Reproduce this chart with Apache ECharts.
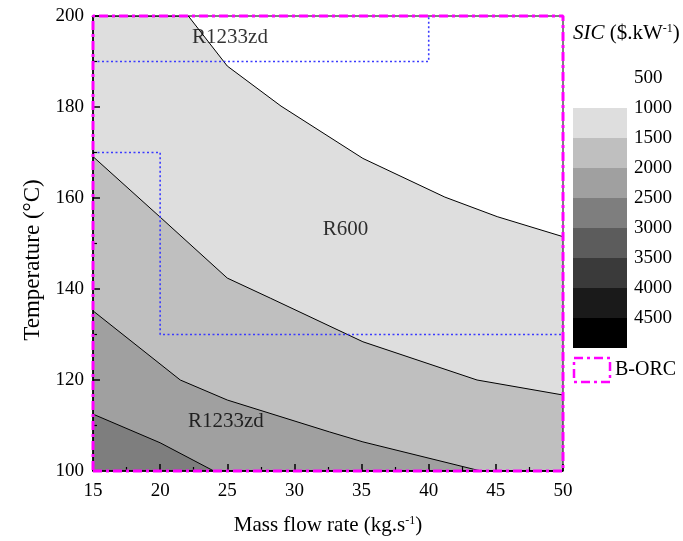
<!DOCTYPE html>
<html>
<head>
<meta charset="utf-8">
<script src="https://cdn.jsdelivr.net/npm/echarts@6/dist/echarts.min.js"></script>
<style>
  html, body { margin: 0; padding: 0; background: #fff; }
  #chart { width: 683px; height: 541px; }
</style>
</head>
<body>
<div id="chart"></div>
<script>
// Iso-cost contour lines of SIC ($/kW) over mass flow rate (kg/s) and temperature (°C)
const contour1000 = [[15, 200], [22.1, 200], [25, 189], [29, 180.2], [35.1, 168.7], [41.2, 160.2], [45.1, 155.9], [50, 151.5]];
const contour1500 = [[15, 169.1], [20, 155.8], [25, 142.4], [28.2, 138], [35.1, 128.4], [43.6, 120], [50, 116.7]];
const contour2000 = [[15, 135.2], [21.5, 120], [25, 115.6], [32.6, 108.6], [35.1, 106.4], [43.6, 100.2], [44, 100], [50, 100]];
const contour2500 = [[15, 112.5], [20, 106.2], [24, 100], [50, 100]];

// Working-fluid zones (dotted outlines)
const zoneR1233zdTop = [[15, 190], [40, 190], [40, 200]];
const zoneR600 = [[15, 170], [20, 170], [20, 130], [50, 130]];
const bOrcFrame = [[15, 100], [50, 100], [50, 200], [15, 200], [15, 100]];

const fluidLabels = [
  { name: 'R1233zd', value: [25.2, 195.2] },
  { name: 'R600', value: [33.8, 153] },
  { name: 'R1233zd', value: [24.9, 110.9] }
];

// Colour scale
const sicLevels = [500, 1000, 1500, 2000, 2500, 3000, 3500, 4000, 4500];
const sicColors = ['#ffffff', '#dedede', '#bfbfbf', '#a0a0a0', '#7e7e7e', '#5c5c5c', '#3a3a3a', '#1a1a1a', '#000000'];

const xTicks = { min: 15, max: 50, interval: 5 };
const yTicks = { min: 100, max: 200, interval: 20 };

const FONT = 'Liberation Serif';
const supStyle = { fontSize: 12, fontFamily: FONT, color: '#000', padding: [0, 0, 9, 0] };

function band(data, color) {
  return {
    type: 'line', data: data, symbol: 'none', silent: true,
    lineStyle: { color: '#000', width: 1 },
    areaStyle: { color: color, opacity: 1, origin: 'start' },
    z: 2
  };
}
function dotted(data) {
  return {
    type: 'line', data: data, symbol: 'none', silent: true,
    lineStyle: { color: '#3a3aff', width: 1.6, type: [2, 2.5] },
    z: 4
  };
}

// Legend built from the colour scale
const legendX = 573, legendTop = 78, boxW = 54, boxH = 30;
const legendGraphics = [];
sicLevels.forEach((lv, i) => {
  legendGraphics.push({
    type: 'rect',
    shape: { x: legendX, y: legendTop + i * boxH, width: boxW, height: boxH },
    style: { fill: sicColors[i] }
  });
  legendGraphics.push({
    type: 'text', x: 634, y: legendTop + i * boxH,
    style: { text: String(lv), font: '19px "' + FONT + '"', fill: '#000', verticalAlign: 'middle', align: 'left' }
  });
});
legendGraphics.push({
  type: 'text', x: 573, y: 33,
  style: {
    text: '{it|SIC} ($.kW{sup|-1})', font: '21px "' + FONT + '"', fill: '#000', verticalAlign: 'middle',
    rich: {
      it: { fontStyle: 'italic', fontSize: 21, fontFamily: FONT },
      sup: supStyle
    }
  }
});
legendGraphics.push({
  type: 'rect',
  shape: { x: 574, y: 358, width: 36, height: 24 },
  style: { fill: 'none', stroke: '#ff00ff', lineWidth: 2.5, lineDash: [9, 4, 3, 4] }
});
legendGraphics.push({
  type: 'text', x: 615, y: 370,
  style: { text: 'B-ORC', font: '20px "' + FONT + '"', fill: '#000', verticalAlign: 'middle' }
});
// Vertical axis title
legendGraphics.push({
  type: 'text', x: 33, y: 260, rotation: Math.PI / 2,
  style: { text: 'Temperature (°C)', font: '23px "' + FONT + '"', fill: '#000', align: 'center', verticalAlign: 'middle' }
});

const chart = echarts.init(document.getElementById('chart'), null, { renderer: 'canvas' });
chart.setOption({
  backgroundColor: '#fff',
  animation: false,
  grid: { left: 93, right: 120, top: 16, bottom: 70, show: true, borderColor: '#000', borderWidth: 1, backgroundColor: 'transparent', z: 5 },
  xAxis: {
    type: 'value', min: xTicks.min, max: xTicks.max, interval: xTicks.interval,
    name: 'Mass flow rate (kg.s{sup|-1})', nameLocation: 'middle', nameGap: 44,
    nameTextStyle: { fontFamily: FONT, fontSize: 21, color: '#000', rich: { sup: supStyle } },
    axisLine: { lineStyle: { color: '#000', width: 1.5 } },
    axisTick: { inside: true, length: 7, lineStyle: { color: '#000', width: 1.5 } },
    minorTick: { show: true, splitNumber: 2, length: 4, lineStyle: { color: '#000', width: 1.2 } },
    axisLabel: { fontFamily: FONT, fontSize: 19, color: '#000', margin: 11 },
    splitLine: { show: false }, z: 6
  },
  yAxis: {
    type: 'value', min: yTicks.min, max: yTicks.max, interval: yTicks.interval,
    axisLine: { lineStyle: { color: '#000', width: 1.5 } },
    axisTick: { inside: true, length: 7, lineStyle: { color: '#000', width: 1.5 } },
    minorTick: { show: true, splitNumber: 2, length: 4, lineStyle: { color: '#000', width: 1.2 } },
    axisLabel: { fontFamily: FONT, fontSize: 19, color: '#000', margin: 9 },
    splitLine: { show: false }, z: 6
  },
  graphic: legendGraphics,
  series: [
    band(contour1000, sicColors[1]),
    band(contour1500, sicColors[2]),
    band(contour2000, sicColors[3]),
    band(contour2500, sicColors[4]),
    dotted(zoneR1233zdTop),
    dotted(zoneR600),
    {
      type: 'line', data: bOrcFrame, symbol: 'none', silent: true, clip: false,
      lineStyle: { color: '#ff00ff', width: 3, type: [9, 4, 3, 4] },
      z: 7
    },
    {
      type: 'scatter', data: fluidLabels, symbolSize: 0, silent: true, z: 8,
      label: { show: true, position: 'inside', formatter: p => p.name, fontFamily: FONT, fontSize: 21, color: '#000' }
    }
  ]
});
</script>
</body>
</html>
